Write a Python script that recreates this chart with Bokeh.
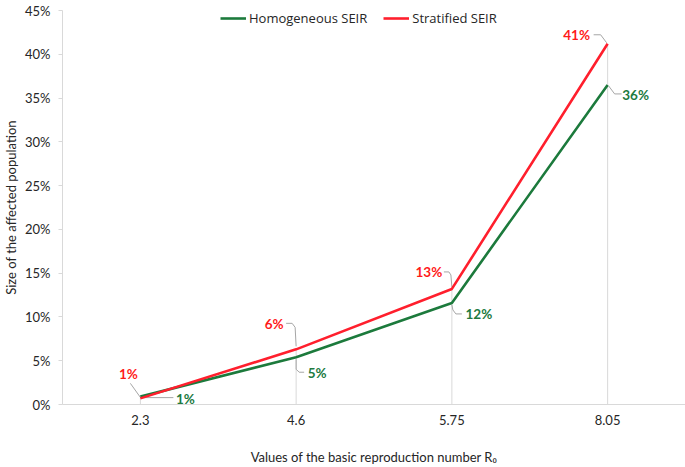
from bokeh.plotting import figure
from bokeh.models import (Legend, LegendItem, FixedTicker, PrintfTickFormatter,
                          Range1d, ColumnDataSource)
from bokeh.core.properties import value
from bokeh.embed import file_html
from bokeh.resources import INLINE

# ---------------- data ----------------
categories = ["2.3", "4.6", "5.75", "8.05"]
homogeneous = [0.9, 5.4, 11.6, 36.5]     # % affected, Homogeneous SEIR
stratified = [0.7, 6.3, 13.2, 41.2]      # % affected, Stratified SEIR
homogeneous_labels = ["1%", "5%", "12%", "36%"]
stratified_labels = ["1%", "6%", "13%", "41%"]
y_ticks = [0, 5, 10, 15, 20, 25, 30, 35, 40, 45]

# ---------------- layout / style ----------------
FONT = "Lato"
LEG_FONT = "Open Sans"
GREEN = "#1c7a3c"
RED = "#ff1f2d"
GREEN_TXT = "#217a3f"
RED_TXT = "#ff1a1a"
GREY = "#d9d9d9"
TXT = "#262626"

W, H = 685, 467
B_LEFT, B_RIGHT, B_TOP, B_BOTTOM = 62, 0, 10, 63
X0, X1 = -0.5, 3.5
Y0, Y1 = 0, 45
frame_w = W - B_LEFT - B_RIGHT
frame_h = H - B_TOP - B_BOTTOM
px_x = frame_w / (X1 - X0)
px_y = frame_h / (Y1 - Y0)

# label offsets (pixels, dy positive = down) and leader polylines (pixels)
red_lbl_off = [(-12, -24), (-22, -25), (-23, -17), (-31, -9)]
red_leader = [
    [(0, -1), (-10, -15)],
    [(0, -3), (-1, -22), (-4, -26), (-10, -26)],
    [(0, -2), (-1, -14), (-3, -17), (-8, -17)],
    [(-1, -1), (-7, -9), (-14, -9)],
]
grn_lbl_off = [(45, 2), (21, 16), (27, 11), (28, 10)]
grn_leader = [
    [(3, 1), (33, 1)],
    [(0, 2), (0, 12), (3, 15), (8, 15)],
    [(0, 2), (1, 7), (4, 11), (10, 11)],
    [(1, 1), (7, 9), (14, 9)],
]

xs = list(range(len(categories)))

p = figure(width=W, height=H, output_backend="svg", toolbar_location=None,
           x_range=Range1d(X0, X1), y_range=Range1d(Y0, Y1),
           min_border_left=B_LEFT, min_border_right=B_RIGHT,
           min_border_top=B_TOP, min_border_bottom=B_BOTTOM)
p.outline_line_color = None
p.xgrid.visible = False
p.ygrid.visible = False
p.background_fill_color = "white"
p.border_fill_color = "white"

# drop lines
p.segment(x0=xs, y0=[0] * len(xs), x1=xs,
          y1=[max(a, b) for a, b in zip(homogeneous, stratified)],
          line_color=GREY, line_width=1)


def leaders(vals, polys):
    lx, ly = [], []
    for i, (v, poly) in enumerate(zip(vals, polys)):
        lx.append([i + dx / px_x for dx, dy in poly])
        ly.append([v - dy / px_y for dx, dy in poly])
    return lx, ly


lx, ly = leaders(stratified, red_leader)
p.multi_line(xs=lx, ys=ly, line_color="#a6a6a6", line_width=1)
lx, ly = leaders(homogeneous, grn_leader)
p.multi_line(xs=lx, ys=ly, line_color="#a6a6a6", line_width=1)

g = p.line(xs, homogeneous, line_color=GREEN, line_width=2.6)
r = p.line(xs, stratified, line_color=RED, line_width=2.6)

src_r = ColumnDataSource(dict(x=xs, y=stratified, t=stratified_labels,
                              xo=[o[0] for o in red_lbl_off],
                              yo=[o[1] for o in red_lbl_off]))
src_g = ColumnDataSource(dict(x=xs, y=homogeneous, t=homogeneous_labels,
                              xo=[o[0] for o in grn_lbl_off],
                              yo=[o[1] for o in grn_lbl_off]))
for src, col in ((src_r, RED_TXT), (src_g, GREEN_TXT)):
    p.text(x="x", y="y", text="t", x_offset="xo", y_offset="yo", source=src,
           text_font=value(FONT), text_font_size="13.5px", text_font_style="bold",
           text_color=col, text_align="center", text_baseline="middle")

# axes
xa = p.xaxis[0]
xa.ticker = FixedTicker(ticks=xs)
xa.major_label_overrides = {i: c for i, c in enumerate(categories)}
xa.axis_line_color = GREY
xa.major_tick_line_color = None
xa.minor_tick_line_color = None
xa.major_label_standoff = 4
xa.major_label_text_font = FONT
xa.major_label_text_font_size = "13px"
xa.major_label_text_color = TXT
xa.axis_label = "Values of the basic reproduction number R\u2080"
xa.axis_label_text_font = FONT
xa.axis_label_text_font_size = "13px"
xa.axis_label_text_font_style = "normal"
xa.axis_label_text_color = TXT
xa.axis_label_standoff = 21

ya = p.yaxis[0]
ya.ticker = FixedTicker(ticks=y_ticks)
ya.formatter = PrintfTickFormatter(format="%d%%")
ya.axis_line_color = GREY
ya.major_tick_line_color = GREY
ya.major_tick_out = 4
ya.major_tick_in = 0
ya.minor_tick_line_color = None
ya.major_label_standoff = 8
ya.major_label_text_font = FONT
ya.major_label_text_font_size = "13px"
ya.major_label_text_color = TXT
ya.axis_label = "Size of the affected population"
ya.axis_label_text_font = FONT
ya.axis_label_text_font_size = "13px"
ya.axis_label_text_font_style = "normal"
ya.axis_label_text_color = TXT
ya.axis_label_standoff = 3

legend = Legend(items=[LegendItem(label="Homogeneous SEIR", renderers=[g]),
                       LegendItem(label="Stratified SEIR", renderers=[r])],
                orientation="horizontal", location=(158, frame_h - 17),
                border_line_color=None, background_fill_alpha=0,
                padding=0, margin=0, spacing=16, glyph_width=26, glyph_height=12,
                label_height=12, label_standoff=3,
                label_text_font=LEG_FONT, label_text_font_size="13px",
                label_text_color=TXT)
p.add_layout(legend, "center")

open("out.html", "w").write(file_html(p, INLINE))
